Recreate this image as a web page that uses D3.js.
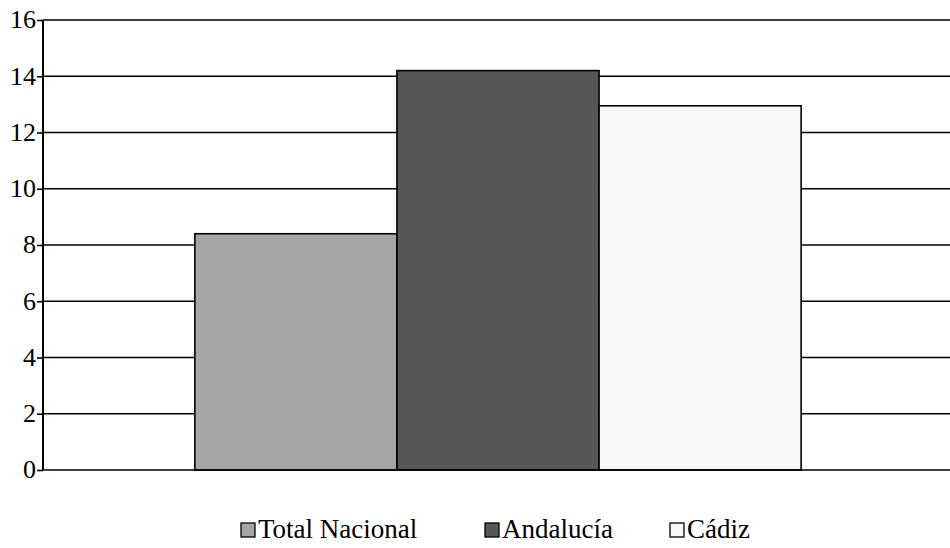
<!DOCTYPE html>
<html>
<head>
<meta charset="utf-8">
<script src="https://cdn.jsdelivr.net/npm/d3@7"></script>
<style>
  html, body { margin: 0; padding: 0; background: #fff; }
  svg { display: block; }
  svg text { font-family: "Liberation Serif", serif !important; }
</style>
</head>
<body>
<div id="chart"></div>
<script>
// data
const series = ["Total Nacional", "Andalucía", "Cádiz"];
const values = [8.4, 14.2, 12.95];
const colors = ["#a5a5a5", "#575757", "#f8f8f8"];
const yTicks = [0, 2, 4, 6, 8, 10, 12, 14, 16];

const width = 950, height = 548;
const margin = { top: 20, right: 0, bottom: 78, left: 43 };
const plotW = width - margin.left - margin.right;
const plotH = height - margin.top - margin.bottom;
const serif = "Liberation Serif";

function draw() {
    const svg = d3.select("#chart").append("svg")
        .attr("width", width)
        .attr("height", height)
        .attr("font-family", serif);

    const g = svg.append("g").attr("transform", `translate(${margin.left},${margin.top})`);

    const y = d3.scaleLinear().domain([0, 16]).range([plotH, 0]);

    // single category group, bars side by side
    const x0 = d3.scaleBand().domain(["grupo"]).range([0, plotW])
        .paddingInner(0).paddingOuter(0.248).align(0.505);
    const x1 = d3.scaleBand().domain(series).range([0, x0.bandwidth()]).padding(0);

    // gridlines
    g.append("g")
        .selectAll("line")
        .data(yTicks.filter(d => d > 0))
        .join("line")
        .attr("x1", 0)
        .attr("x2", plotW)
        .attr("y1", d => y(d))
        .attr("y2", d => y(d))
        .attr("stroke", "#000")
        .attr("stroke-width", 1.6);

    // bars
    g.append("g")
        .attr("transform", `translate(${x0("grupo")},0)`)
        .selectAll("rect")
        .data(series.map((s, i) => ({ s, v: values[i], c: colors[i] })))
        .join("rect")
        .attr("x", d => x1(d.s))
        .attr("y", d => y(d.v))
        .attr("width", x1.bandwidth())
        .attr("height", d => y(0) - y(d.v))
        .attr("fill", d => d.c)
        .attr("stroke", "#000")
        .attr("stroke-width", 1.6);

    // axes
    const yAxis = g.append("g")
        .call(d3.axisLeft(y).tickValues(yTicks).tickSize(6).tickPadding(1).tickFormat(d3.format("d")))
        .attr("font-family", serif)
        .attr("font-size", 26);
    yAxis.select(".domain").remove();
    yAxis.selectAll(".tick line").attr("stroke", "#000").attr("stroke-width", 1.6);
    yAxis.selectAll(".tick text")
        .attr("fill", "#000")
        .attr("font-family", serif)
        .attr("dy", "0.3em");

    g.append("line")
        .attr("x1", 0).attr("x2", 0)
        .attr("y1", 0).attr("y2", plotH)
        .attr("stroke", "#000").attr("stroke-width", 2);

    g.append("line")
        .attr("x1", 0).attr("x2", plotW)
        .attr("y1", plotH).attr("y2", plotH)
        .attr("stroke", "#000").attr("stroke-width", 1.6);

    // legend
    const legendX = [241, 485, 670];
    const legend = svg.append("g")
        .selectAll("g")
        .data(series)
        .join("g")
        .attr("transform", (d, i) => `translate(${legendX[i]},523)`);

    legend.append("rect")
        .attr("width", 14)
        .attr("height", 14)
        .attr("fill", (d, i) => colors[i])
        .attr("stroke", "#000")
        .attr("stroke-width", 1.3);

    legend.append("text")
        .attr("x", 17)
        .attr("y", 15)
        .attr("font-family", serif)
        .attr("font-size", 27)
        .attr("fill", "#000")
        .text(d => d);
}

if (document.fonts && document.fonts.load) {
    document.fonts.load('26px "Liberation Serif"').then(draw, draw);
} else {
    draw();
}
</script>
</body>
</html>
